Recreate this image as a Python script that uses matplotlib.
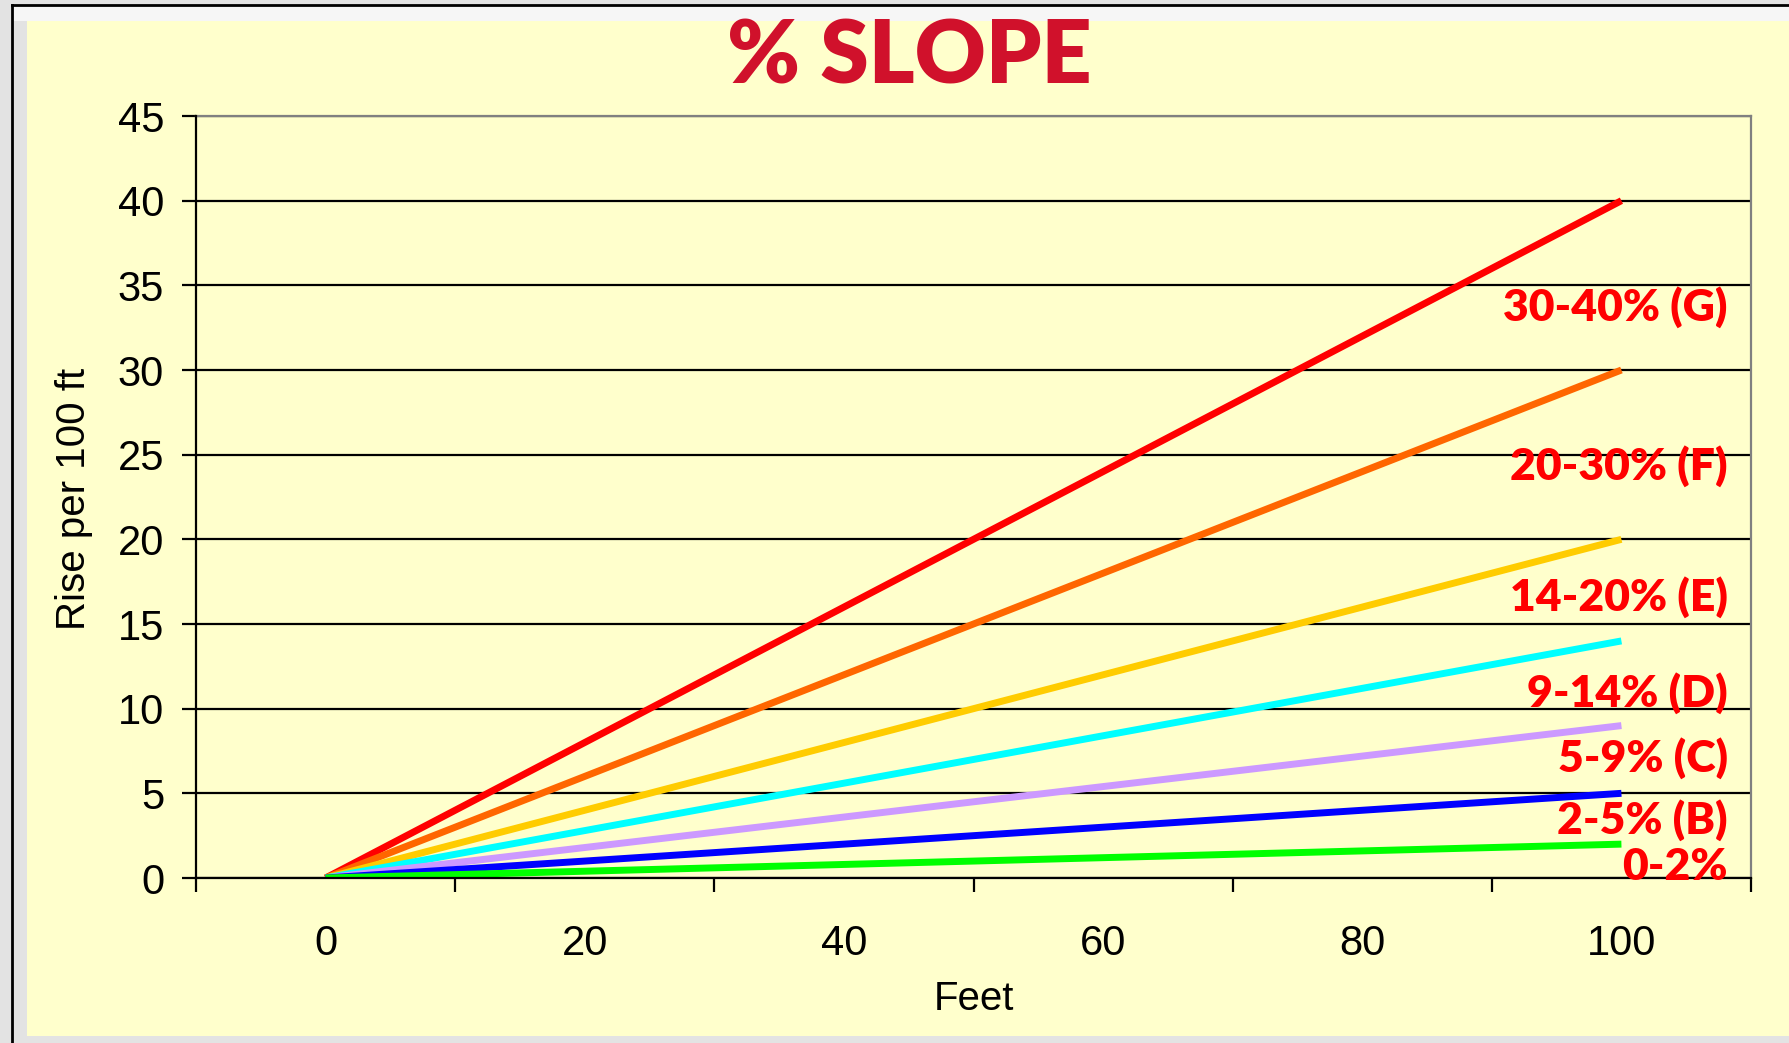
import matplotlib.pyplot as plt
from matplotlib.patches import Rectangle
from matplotlib.lines import Line2D

# data
feet = [0, 100]
rise_at_100 = [40, 30, 20, 14, 9, 5, 2]
line_colors = ["#ff0000", "#ff6600", "#ffcc00", "#00ffff", "#cc99ff", "#0000ff", "#00ff00"]
slope_labels = ["30-40% (G)", "20-30% (F)", "14-20% (E)", "9-14% (D)", "5-9% (C)", "2-5% (B)", "0-2%"]
label_y = [33.7, 24.3, 16.6, 10.9, 7.1, 3.4, 0.65]
label_x = 108.2
x_labels = [0, 20, 40, 60, 80, 100]
x_ticks = [-10, 10, 30, 50, 70, 90, 110]
y_ticks = list(range(0, 50, 5))

W, H = 1789, 1043
fig = plt.figure(figsize=(W / 100, H / 100), dpi=100)
fig.patch.set_facecolor("#e3e3e3")

# yellow slide panel + frame
fig.add_artist(Rectangle((27 / W, 1 - 1036 / H), (W - 27) / W, (1036 - 21) / H,
                         transform=fig.transFigure, facecolor="#ffffcc",
                         edgecolor="none", zorder=0))
fig.add_artist(Rectangle((13 / W, 1 - 21 / H), (W - 13) / W, 15 / H,
                         transform=fig.transFigure, facecolor="#f6f6f6",
                         edgecolor="none", zorder=0))
fig.add_artist(Line2D([12 / W, 12 / W], [0, 1 - 5 / H], transform=fig.transFigure,
                      color="black", lw=2))
fig.add_artist(Line2D([12 / W, 1], [1 - 5 / H, 1 - 5 / H], transform=fig.transFigure,
                      color="black", lw=2))

ax = fig.add_axes([196 / W, 1 - 878 / H, (1751 - 196) / W, (878 - 116) / H])
ax.set_facecolor("#ffffcc")

for rise, c in zip(rise_at_100, line_colors):
    ax.plot(feet, [0, rise], color=c, lw=5, solid_capstyle="butt", zorder=3)

ax.set_xlim(-10, 110)
ax.set_ylim(0, 45)
ax.set_yticks(y_ticks)
ax.set_xticks(x_ticks)
ax.set_xticklabels([])
ax.set_xticks(x_labels, minor=True)
ax.set_xticklabels([str(v) for v in x_labels], minor=True)
ax.tick_params(axis="x", which="major", direction="out", length=10, width=1.6, color="black")
ax.tick_params(axis="x", which="minor", length=0, pad=33, labelsize=30)
ax.tick_params(axis="y", direction="out", length=10, width=1.6, pad=13, labelsize=30)
for lab in ax.get_xticklabels(minor=True) + ax.get_yticklabels():
    lab.set_fontfamily("Liberation Sans")

ax.yaxis.grid(True, color="black", lw=1.6)
ax.set_axisbelow(True)
ax.spines["left"].set_linewidth(1.6)
ax.spines["bottom"].set_linewidth(1.6)
ax.spines["left"].set_zorder(4)
ax.spines["bottom"].set_zorder(4)
for s in ("top", "right"):
    ax.spines[s].set_color("#808080")
    ax.spines[s].set_linewidth(1.6)

ax.set_xlabel("Feet", fontsize=29, family="Liberation Sans", va="center")
ax.xaxis.set_label_coords(0.5, -0.159)
ax.set_ylabel("Rise per 100 ft", fontsize=29, family="Liberation Sans", va="center")
ax.yaxis.set_label_coords(-0.0785, 0.497)

for txt, y in zip(slope_labels, label_y):
    ax.text(label_x, y, txt, color="#ff0000", fontsize=32, fontweight="heavy",
            family="Lato", ha="right", va="center", zorder=5, clip_on=False)

fig.text(909 / W, 1 - 59 / H, "% SLOPE", color="#d0112b", fontsize=63,
         fontweight="heavy", family="Lato", ha="center", va="center")

fig.savefig("out.png", dpi=100, facecolor=fig.get_facecolor())
